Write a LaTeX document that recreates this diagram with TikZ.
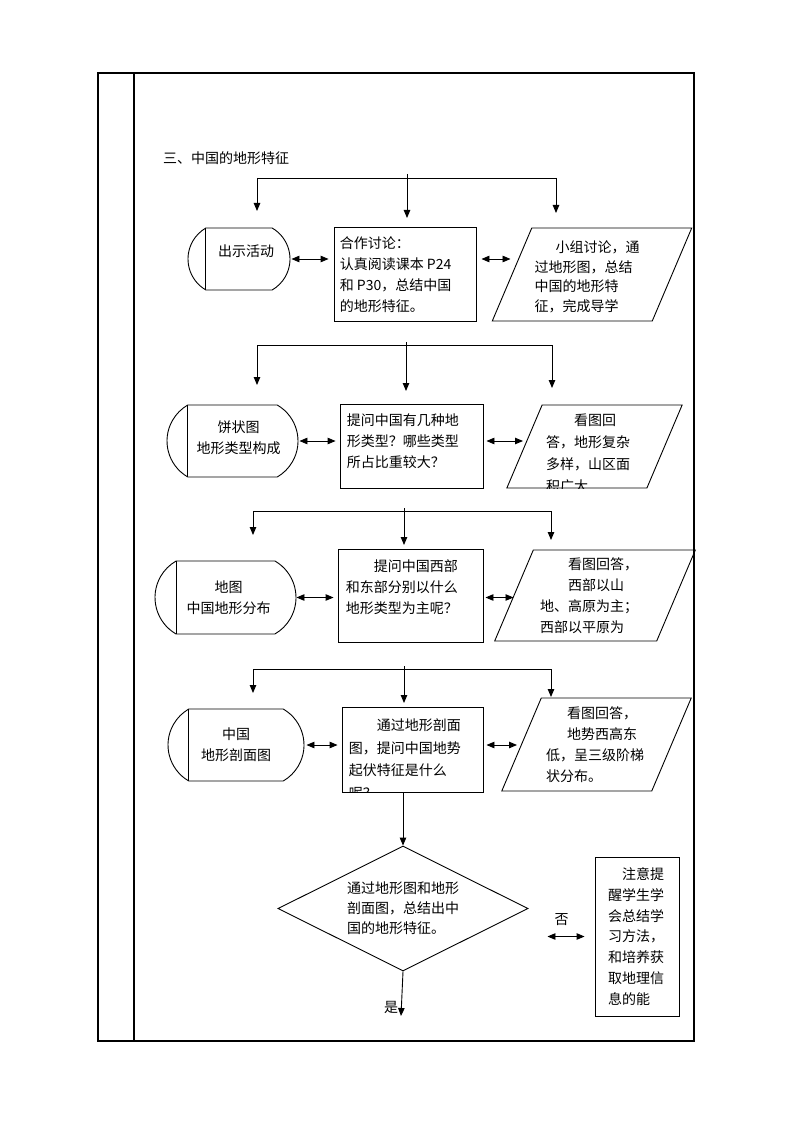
\documentclass[tikz,border=0pt]{standalone}
\usepackage{fontspec}
\newfontfamily\cjk{Noto Sans CJK SC}
\usetikzlibrary{arrows.meta,shapes.geometric,shapes.misc}
\definecolor{Ink}{HTML}{000000}
\tikzset{
 cjktext/.style={font=\cjk\fontsize{14}{21}\selectfont},
 txt/.style={font=\cjk\fontsize{14}{#1}\selectfont, align=left, inner sep=0pt, anchor=north west},
 txt/.default=21,
 terminal/.style={draw=Ink, line width=0.9pt, rounded rectangle, rounded rectangle arc length=120, inner sep=0pt},
 box/.style={draw=Ink, line width=0.9pt, rectangle, inner sep=0pt},
 para/.style={draw=Ink, line width=0.9pt, trapezium, trapezium left angle=67, trapezium right angle=113, inner sep=0pt, text depth=0pt},
 decision/.style={draw=Ink, line width=0.9pt, diamond, aspect=2, inner sep=2pt, align=left, font=\cjk\fontsize{14}{20}\selectfont},
 arrow/.style={-{Triangle[length=8pt,width=6.5pt]}, line width=0.9pt, draw=Ink},
 dblarrow/.style={{Triangle[length=8pt,width=6.5pt]}-{Triangle[length=8pt,width=6.5pt]}, line width=0.9pt, draw=Ink},
 fan/.style={line width=0.9pt, draw=Ink},
 tableline/.style={line width=1.1pt, draw=Ink}
}
\begin{document}
\begin{tikzpicture}[x=1pt,y=-1pt]
\fill[white] (0,0) rectangle (794,1123);
\useasboundingbox (0,0) rectangle (794,1123);

% table frame
\draw[tableline] (98,73) rectangle (694,1041);
\draw[tableline] (134,73) -- (134,1041);

\node[txt, anchor=west] (title) at (163,158) {三、中国的地形特征};

% row 1
\coordinate (s1) at (407,174);
\coordinate (l1) at (257,178);
\coordinate (r1) at (556,178);
\draw[fan] (l1) -- (r1);
\draw[arrow] (s1) -- ++(0,44);
\draw[arrow] (l1) -- ++(0,33);
\draw[arrow] (r1) -- ++(0,35);

\node[terminal, minimum width=102pt, minimum height=62pt] (t1) at (239,259) {};
\draw[fan] (t1.north west) -- (t1.south west);
\node[cjktext, inner sep=0pt] (t1txt) at ([xshift=7pt,yshift=8pt]t1.center) {出示活动};

\node[box, minimum width=142pt, minimum height=94pt] (b1) at (405,274) {};
\node[txt] (b1txt) at ([xshift=6pt,yshift=-10pt]b1.north west) {合作讨论：\\认真阅读课本 P24\\和 P30，总结中国\\的地形特征。};

\node[para, text width=120.5pt, text height=93pt] (p1) at (592,274.5) {};
\node[txt=19.5] (p1txt) at ([xshift=3pt,yshift=-13pt]p1.top left corner) {\hspace*{1.5em}小组讨论，通\\过地形图，总结\\中国的地形特\\征，完成导学};

\draw[dblarrow, shorten <=1pt, shorten >=5pt] (t1.east) -- (t1.east -| b1.west);
\draw[dblarrow, shorten <=5pt, shorten >=1pt] (t1.east -| b1.east) -- (t1.east -| p1.west);

% row 2
\coordinate (s2) at (406,342);
\coordinate (l2) at (257,345);
\coordinate (r2) at (552,345);
\draw[fan] (l2) -- (r2);
\draw[arrow] (s2) -- ++(0,49);
\draw[arrow] (l2) -- ++(0,40);
\draw[arrow] (r2) -- ++(0,43);

\node[terminal, minimum width=131pt, minimum height=72pt] (t2) at (232.5,441) {};
\draw[fan] (t2.north west) -- (t2.south west);
\node[cjktext, inner sep=0pt, align=center] (t2txt) at ([xshift=6pt,yshift=3pt]t2.center) {饼状图\\地形类型构成};

\node[box, minimum width=143pt, minimum height=84pt] (b2) at (411.5,446) {};
\node[txt] (b2txt) at ([xshift=7pt,yshift=-10pt]b2.north west) {提问中国有几种地\\形类型？哪些类型\\所占比重较大？};

\node[para, text width=104.8pt, text height=83pt] (p2) at (594.5,446.5) {};
\begin{scope}
\clip (p2.top left corner) -- (p2.top right corner) -- (p2.bottom right corner) -- (p2.bottom left corner) -- cycle;
\node[txt=22] (p2txt) at ([xshift=4pt,yshift=-9pt]p2.top left corner) {\hspace*{2em}看图回\\答，地形复杂\\多样，山区面\\积广大};
\end{scope}

\draw[dblarrow, shorten <=1pt, shorten >=4pt] (t2.east) -- (t2.east -| b2.west);
\draw[dblarrow, shorten <=3pt, shorten >=1pt] (t2.east -| b2.east) -- (t2.east -| p2.west);

% row 3
\coordinate (s3) at (404,508);
\coordinate (l3) at (253,511);
\coordinate (r3) at (551,511);
\draw[fan] (l3) -- (r3);
\draw[arrow] (s3) -- ++(0,37);
\draw[arrow] (l3) -- ++(0,24);
\draw[arrow] (r3) -- ++(0,29);

\node[terminal, minimum width=141pt, minimum height=73pt] (t3) at (225.5,597.5) {};
\draw[fan] (t3.north west) -- (t3.south west);
\node[cjktext, inner sep=0pt, align=center] (t3txt) at ([xshift=3pt]t3.center) {地图\\中国地形分布};

\node[box, minimum width=145pt, minimum height=93pt] (b3) at (410.5,595.5) {};
\node[txt] (b3txt) at ([xshift=8pt,yshift=-11pt]b3.north west) {\hspace*{2em}提问中国西部\\和东部分别以什么\\地形类型为主呢？};

\node[para, text width=123.4pt, text height=91pt] (p3) at (595,595.5) {};
\node[txt] (p3txt) at ([xshift=7pt,yshift=-8pt]p3.top left corner) {\hspace*{2em}看图回答，\\\hspace*{2em}西部以山\\地、高原为主；\\西部以平原为};

\draw[dblarrow, shorten <=0pt, shorten >=4pt] (t3.east) -- (t3.east -| b3.west);
\draw[dblarrow, shorten <=2pt, shorten >=0pt] (t3.east -| b3.east) -- (t3.east -| p3.west);

% row 4
\coordinate (s4) at (404,666);
\coordinate (l4) at (253,669);
\coordinate (r4) at (551,669);
\draw[fan] (l4) -- (r4);
\draw[arrow] (s4) -- ++(0,37);
\draw[arrow] (l4) -- ++(0,24);
\draw[arrow] (r4) -- ++(0,28);

\node[terminal, minimum width=136pt, minimum height=72pt] (t4) at (236,745) {};
\draw[fan] (t4.north west) -- (t4.south west);
\node[cjktext, inner sep=0pt, align=center] (t4txt) at (t4.center) {中国\\地形剖面图};

\node[box, minimum width=141pt, minimum height=85pt] (b4) at (412.5,749.5) {};
\begin{scope}
\clip (b4.north west) rectangle (b4.south east);
\node[txt=22.5] (b4txt) at ([xshift=7pt,yshift=-12pt]b4.north west) {\hspace*{2em}通过地形剖面\\图，提问中国地势\\起伏特征是什么\\呢？};
\end{scope}

\node[para, text width=110.5pt, text height=93pt] (p4) at (596.5,744.5) {};
\node[txt] (p4txt) at ([xshift=5pt,yshift=-9pt]p4.top left corner) {\hspace*{1.5em}看图回答，\\\hspace*{1.5em}地势西高东\\低，呈三级阶梯\\状分布。};

\draw[dblarrow, shorten <=2pt, shorten >=4pt] (t4.east) -- (t4.east -| b4.west);
\draw[dblarrow, shorten <=3pt, shorten >=4pt] (t4.east -| b4.east) -- (t4.east -| p4.west);

% decision
\node[decision, minimum width=250pt, minimum height=125pt] (d1) at (403,908.5) {通过地形图和地形\\剖面图，总结出中\\国的地形特征。};
\draw[arrow] (d1.north |- b4.south) -- (d1.north);

\coordinate (yes) at (401,1016);
\draw[arrow] (d1.south) -- (yes);
\node[cjktext, inner sep=0pt] (shi) at (391,1007) {是};

\node[box, minimum width=84pt, minimum height=159pt, text width=58pt, align=left, font=\cjk\fontsize{14}{20.8}\selectfont] (b5) at (637,936.5) {\hspace*{1em}注意提\\醒学生学\\会总结学\\习方法，\\和培养获\\取地理信\\息的能};

\draw[dblarrow, shorten <=19pt, shorten >=10pt] (d1.east |- b5.west) -- (b5.west) node[midway, above=7pt, cjktext] (fou) {否};
\end{tikzpicture}
\end{document}
